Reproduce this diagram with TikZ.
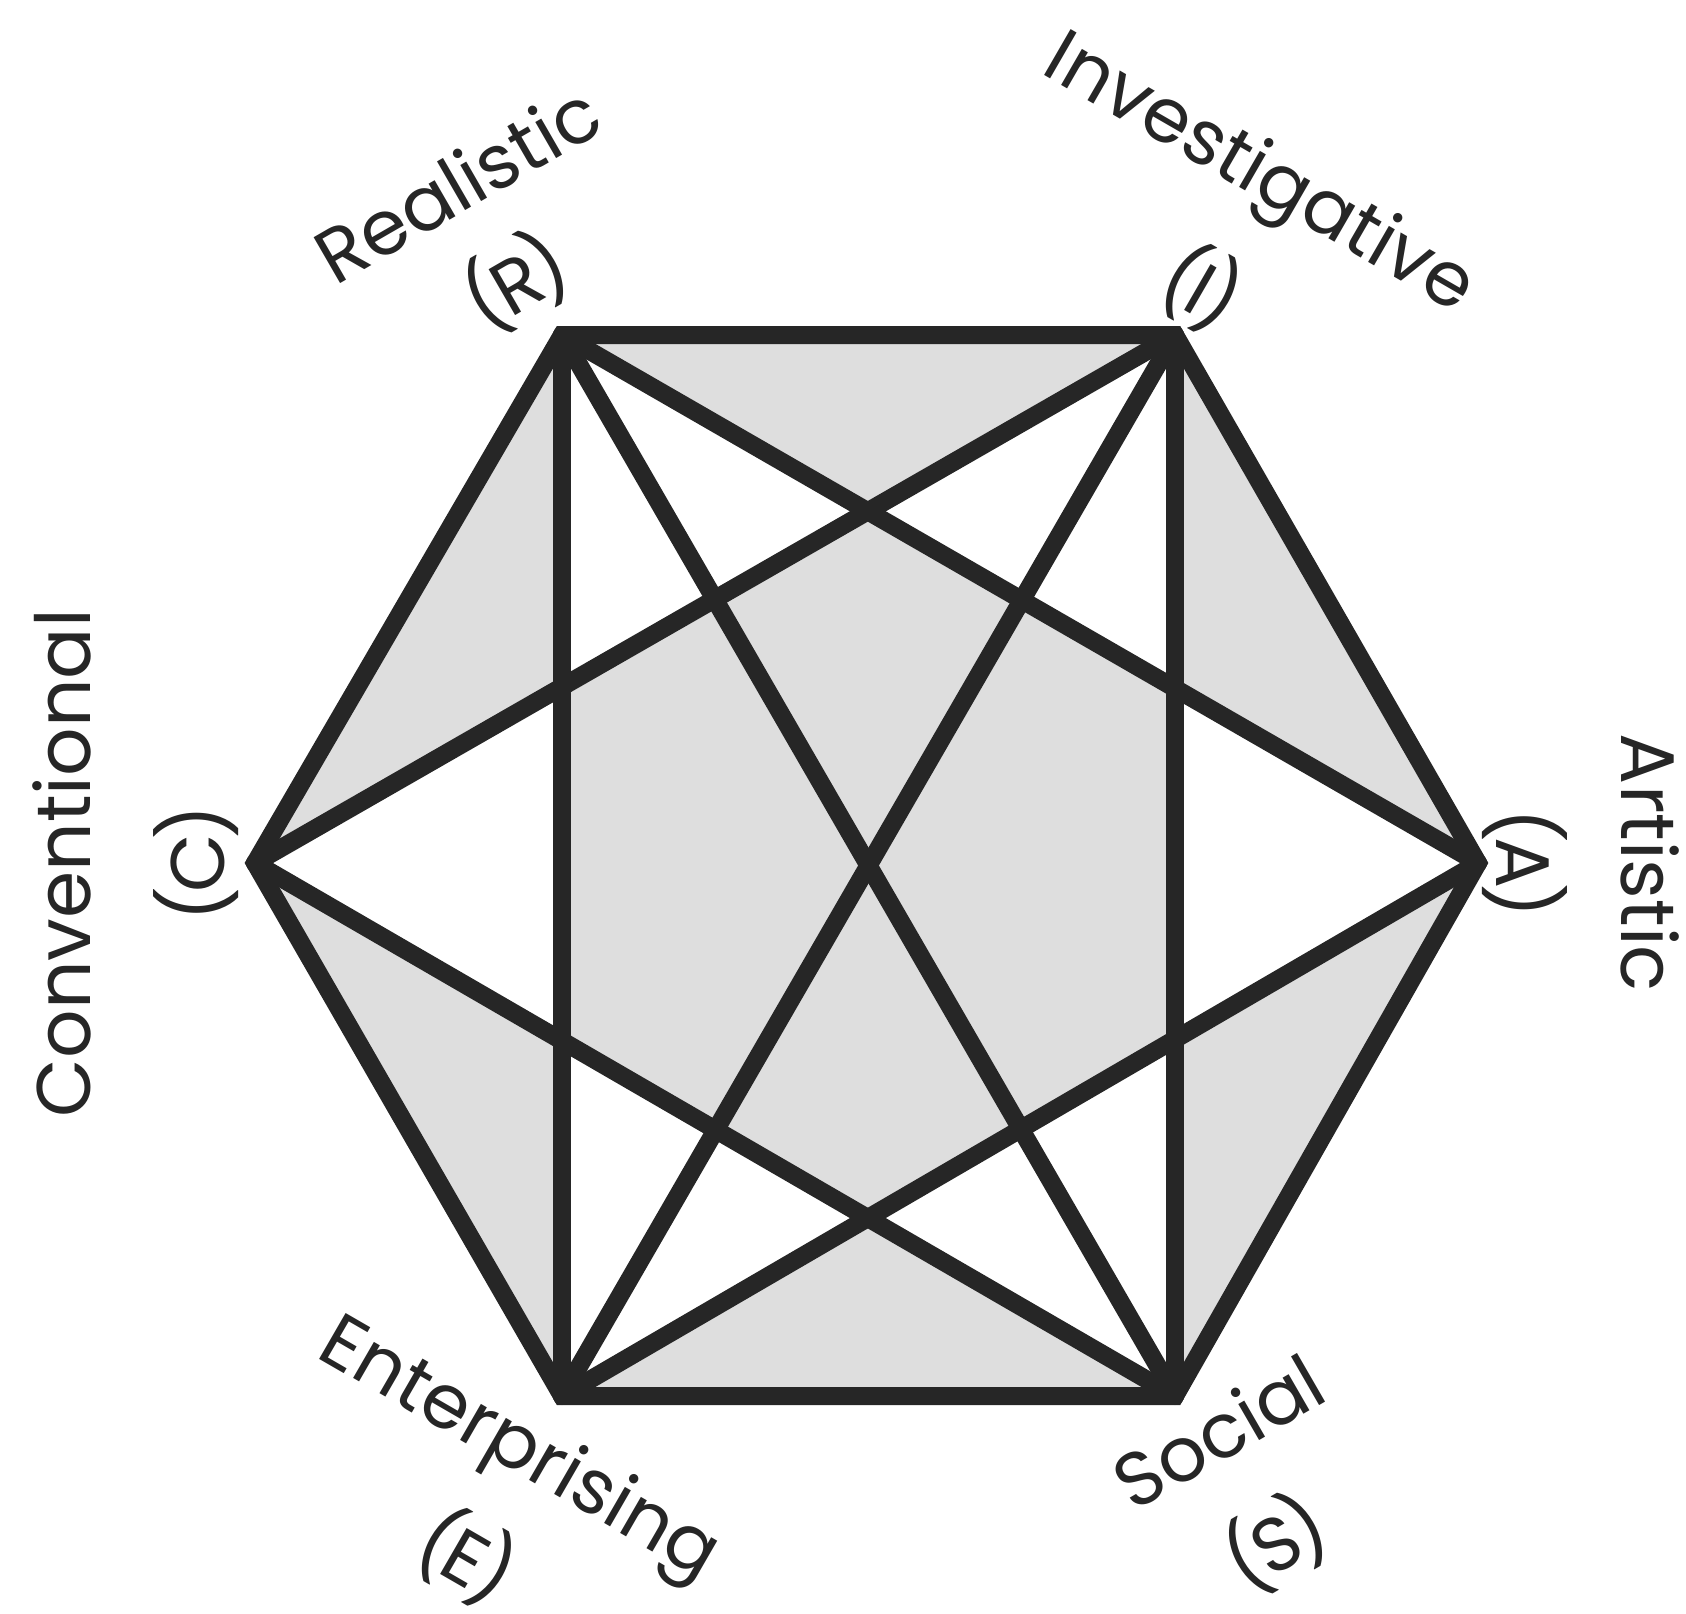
\documentclass[tikz,border=0pt]{standalone}
\usepackage{fontspec}
\setmainfont{Poppins}
\usetikzlibrary{calc}
\newcommand{\lett}[1]{(\kern-0.07em#1\kern-0.07em)}

\begin{document}
\begin{tikzpicture}[x=0.5pt, y=-0.5pt,
    hexline/.style={line width=9pt, draw=black!85, line join=miter},
    diag/.style={line width=9pt, draw=black!85, line cap=round},
    lbl/.style={font=\fontsize{38}{46}\selectfont, text=black!85, inner sep=0pt}]
    \useasboundingbox (0,0) rectangle (1686,1613);
    % corners of the hexagon
    \coordinate (R) at (562,335);
    \coordinate (I) at (1175,335);
    \coordinate (A) at (1478,863);
    \coordinate (S) at (1175,1396);
    \coordinate (E) at (562,1396);
    \coordinate (C) at (255,863);

    % shaded areas
    \fill[black!13, even odd rule] (R) -- (I) -- (A) -- (S) -- (E) -- (C) -- cycle
        (R) -- (A) -- (E) -- cycle (I) -- (S) -- (C) -- cycle;

    % lines
    \foreach \a/\b in {R/A, A/E, E/R, I/S, S/C, C/I, R/S, I/E}
        \draw[diag] (\a) -- (\b);
    \draw[hexline] (R) -- (I) -- (A) -- (S) -- (E) -- (C) -- cycle;

    % labels
    \node[lbl, rotate=30] (Rname) at (457,183) {Realistic};
    \node[lbl, rotate=30] (Rlet) at (516,282) {\lett{R}};
    \node[lbl, rotate=-30] (Iname) at (1258,177) {Investigative};
    \node[lbl, rotate=-30] (Ilet) at (1202,288) {\lett{I}};
    \node[lbl, rotate=-90] (Aname) at (1650,863) {Artistic};
    \node[lbl, rotate=-90] (Alet) at (1525,863) {\lett{A}};
    \node[lbl, rotate=30] (Sname) at (1218,1431) {Social};
    \node[lbl, rotate=30] (Slet) at (1276,1543) {\lett{S}};
    \node[lbl, rotate=-30] (Ename) at (518,1452) {Enterprising};
    \node[lbl, rotate=-30] (Elet) at (467,1557) {\lett{E}};
    \node[lbl, rotate=90] (Cname) at (62,863) {Conventional};
    \node[lbl, rotate=90] (Clet) at (196,863) {\lett{C}};
\end{tikzpicture}
\end{document}
